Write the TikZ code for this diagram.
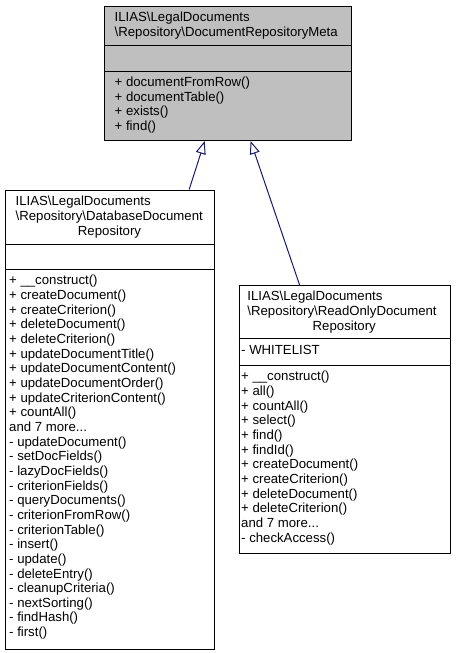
\documentclass[tikz,border=0pt]{standalone}
\usepackage{fontspec}
\setmainfont{Liberation Sans}
\usetikzlibrary{arrows.meta,calc}
\definecolor{edgeblue}{HTML}{191970}
\definecolor{boxgray}{HTML}{BFBFBF}
\newcommand{\moredots}{...}
\begin{document}
\begin{tikzpicture}[x=1pt,y=-1pt,
  umlbox/.style={draw=black, line width=1pt, rectangle, inner sep=0pt, anchor=north west},
  txt/.style={inner sep=0pt, anchor=base west, font=\fontsize{13.2}{14.4}\selectfont},
  ctxt/.style={inner sep=0pt, anchor=base, font=\fontsize{13.2}{14.4}\selectfont},
  sepline/.style={draw=black, line width=1pt},
  inherit/.style={draw=edgeblue, line width=1pt, -{Triangle[open, length=13pt, width=10pt]}}
]
\useasboundingbox (0,0) rectangle (455,653);

% ---------- top box ----------
\node[umlbox, fill=boxgray, minimum width=246.7pt, minimum height=134.5pt] (meta) at (104,5.5) {};
\draw[sepline] (meta.west |- 0,45) -- (meta.east |- 0,45);
\draw[sepline] (meta.west |- 0,71) -- (meta.east |- 0,71);
\node[txt] (mt1) at (114.5,21.5) {ILIAS\textbackslash{}LegalDocuments};
\node[txt] (mt2) at (114.5,36.2) {\textbackslash{}Repository\textbackslash{}DocumentRepositoryMeta};
\foreach \t [count=\i] in {{+ documentFromRow()}, {+ documentTable()}, {+ exists()}, {+ find()}}
  \node[txt] (mm\i) at (114.5,{86.5+(\i-1)*14.66}) {\t};

% ---------- left box ----------
\node[umlbox, fill=white, minimum width=209pt, minimum height=459.5pt] (dbrepo) at (5,189.5) {};
\draw[sepline] (dbrepo.west |- 0,244) -- (dbrepo.east |- 0,244);
\draw[sepline] (dbrepo.west |- 0,269) -- (dbrepo.east |- 0,269);
\node[txt] (dt1) at (15.5,205.7) {ILIAS\textbackslash{}LegalDocuments};
\node[txt] (dt2) at (15.5,220.4) {\textbackslash{}Repository\textbackslash{}DatabaseDocument};
\node[ctxt] (dt3) at (109.5,235.1) {Repository};
\foreach \t [count=\i] in {{+ \_\_construct()}, {+ createDocument()}, {+ createCriterion()},
  {+ deleteDocument()}, {+ deleteCriterion()}, {+ updateDocumentTitle()}, {+ updateDocumentContent()},
  {+ updateDocumentOrder()}, {+ updateCriterionContent()}, {+ countAll()}, {and 7 more\moredots},
  {- updateDocument()}, {- setDocFields()}, {- lazyDocFields()}, {- criterionFields()},
  {- queryDocuments()}, {- criterionFromRow()}, {- criterionTable()}, {- insert()}, {- update()},
  {- deleteEntry()}, {- cleanupCriteria()}, {- nextSorting()}, {- findHash()}, {- first()}}
  \node[txt] (dm\i) at (9,{284.8+(\i-1)*14.66}) {\t};

% ---------- right box ----------
\node[umlbox, fill=white, minimum width=211.5pt, minimum height=267.5pt] (rorepo) at (238.5,285) {};
\draw[sepline] (rorepo.west |- 0,338.5) -- (rorepo.east |- 0,338.5);
\draw[sepline] (rorepo.west |- 0,365) -- (rorepo.east |- 0,365);
\node[txt] (rt1) at (247.2,300.7) {ILIAS\textbackslash{}LegalDocuments};
\node[txt] (rt2) at (247.2,315.4) {\textbackslash{}Repository\textbackslash{}ReadOnlyDocument};
\node[ctxt] (rt3) at (344.25,330.1) {Repository};
\node[txt] (ra1) at (241,354) {- WHITELIST};
\foreach \t [count=\i] in {{+ \_\_construct()}, {+ all()}, {+ countAll()}, {+ select()}, {+ find()},
  {+ findId()}, {+ createDocument()}, {+ createCriterion()}, {+ deleteDocument()},
  {+ deleteCriterion()}, {and 7 more\moredots}, {- checkAccess()}}
  \node[txt] (rm\i) at (241,{380.8+(\i-1)*14.66}) {\t};

% ---------- inheritance ----------
\draw[inherit] ($(dbrepo.north west)!0.877!(dbrepo.north east)$) -- ($(meta.south west)!0.4066!(meta.south east)$);
\draw[inherit] ($(rorepo.north west)!0.2875!(rorepo.north east)$) -- ($(meta.south west)!0.5918!(meta.south east)$);
\end{tikzpicture}
\end{document}
